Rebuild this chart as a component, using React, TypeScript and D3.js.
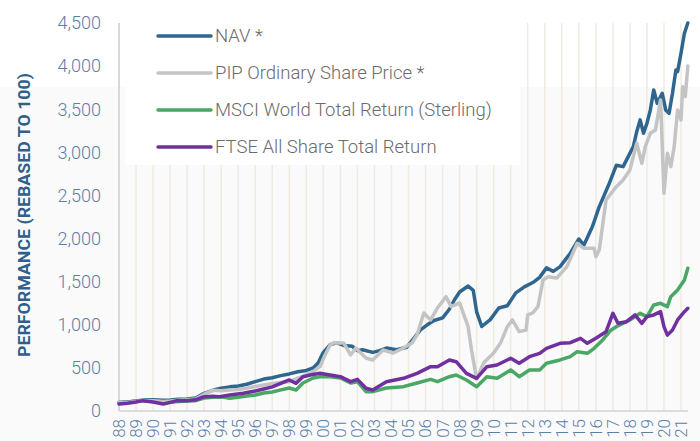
import React from 'react';
import * as d3 from 'd3';

// [year, value] pairs (rebased to 100)
const navSeries: [number, number][] = [
  [1988.0, 100], [1988.5, 105], [1989.0, 115], [1989.5, 128], [1990.0, 130], [1990.6, 125],
  [1991.0, 128], [1991.5, 135], [1992.0, 140], [1992.5, 150], [1993.0, 205], [1993.5, 240],
  [1994.0, 265], [1994.5, 280], [1995.0, 290], [1995.5, 310], [1996.0, 340], [1996.5, 370],
  [1997.0, 385], [1997.5, 410], [1998.0, 430], [1998.5, 455], [1999.0, 470], [1999.4, 500],
  [1999.7, 560], [2000.0, 680], [2000.4, 770], [2000.8, 790], [2001.2, 760], [2001.7, 750],
  [2002.0, 700], [2002.3, 710], [2002.9, 680], [2003.3, 700], [2003.7, 730], [2004.3, 710],
  [2004.9, 740], [2005.3, 840], [2005.7, 940], [2006.1, 1000], [2006.5, 1050], [2007.0, 1080],
  [2007.4, 1180], [2007.7, 1290], [2008.0, 1380], [2008.5, 1450], [2008.8, 1400], [2009.0, 1150],
  [2009.3, 980], [2009.8, 1060], [2010.3, 1195], [2010.8, 1220], [2011.3, 1370], [2011.8, 1440],
  [2012.3, 1490], [2012.7, 1550], [2013.1, 1660], [2013.5, 1620], [2013.9, 1675], [2014.5, 1830],
  [2015.0, 1995], [2015.3, 1925], [2015.8, 2140], [2016.2, 2370], [2016.8, 2645], [2017.2, 2850],
  [2017.6, 2834], [2018.2, 3066], [2018.4, 3240], [2018.6, 3376], [2018.8, 3221], [2019.0, 3337],
  [2019.2, 3492], [2019.4, 3724], [2019.6, 3569], [2019.9, 3685], [2020.1, 3492], [2020.3, 3453],
  [2020.5, 3685], [2020.7, 3956], [2020.8, 3936], [2021.0, 4149], [2021.2, 4381], [2021.4, 4500],
];

const pipSeries: [number, number][] = [
  [1988.0, 100], [1988.5, 100], [1989.0, 110], [1989.5, 120], [1990.0, 118], [1990.6, 110],
  [1991.0, 115], [1991.5, 125], [1992.0, 130], [1992.5, 140], [1993.0, 195], [1993.5, 240],
  [1994.0, 235], [1994.5, 244], [1995.0, 250], [1995.5, 265], [1996.0, 285], [1996.5, 302],
  [1997.0, 320], [1997.5, 330], [1998.0, 340], [1998.5, 380], [1999.0, 420], [1999.4, 456],
  [1999.8, 514], [2000.1, 650], [2000.4, 766], [2000.6, 792], [2001.2, 788], [2001.6, 650],
  [2001.9, 730], [2002.5, 615], [2002.9, 592], [2003.5, 708], [2004.1, 673], [2004.7, 731],
  [2005.2, 788], [2005.5, 882], [2005.9, 1137], [2006.3, 1056], [2006.7, 1195], [2007.2, 1326],
  [2007.5, 1210], [2008.0, 1253], [2008.5, 978], [2008.7, 708], [2009.0, 370], [2009.4, 556],
  [2010.0, 673], [2010.4, 788], [2010.8, 978], [2011.1, 1056], [2011.5, 920], [2011.9, 940],
  [2012.0, 1114], [2012.3, 1137], [2012.6, 1210], [2012.9, 1520], [2013.2, 1558], [2013.7, 1542],
  [2014.3, 1674], [2014.9, 1945], [2015.3, 1887], [2015.9, 1887], [2016.0, 1790], [2016.2, 1868],
  [2016.6, 2448], [2016.9, 2525], [2017.2, 2602], [2017.6, 2680], [2018.0, 2796], [2018.4, 3105],
  [2018.7, 2873], [2018.9, 3066], [2019.2, 3221], [2019.5, 3260], [2019.8, 3608], [2020.0, 2525],
  [2020.2, 2989], [2020.4, 2834], [2020.6, 3066], [2020.8, 3492], [2021.0, 3376], [2021.1, 3762],
  [2021.25, 3646], [2021.4, 4000],
];

const msciSeries: [number, number][] = [
  [1988.0, 100], [1988.5, 105], [1989.0, 112], [1989.5, 118], [1990.0, 110], [1990.6, 90],
  [1991.0, 100], [1991.5, 110], [1992.0, 115], [1992.5, 120], [1993.0, 150], [1993.5, 160],
  [1994.0, 165], [1994.5, 147], [1995.0, 160], [1995.5, 175], [1996.0, 185], [1996.5, 209],
  [1997.0, 220], [1997.5, 245], [1998.0, 267], [1998.4, 244], [1998.8, 325], [1999.4, 383],
  [1999.8, 398], [2000.4, 398], [2001.0, 383], [2001.6, 325], [2002.0, 340], [2002.5, 224],
  [2002.9, 224], [2003.7, 267], [2004.7, 282], [2005.5, 325], [2006.3, 367], [2006.7, 340],
  [2007.4, 398], [2007.8, 418], [2008.4, 360], [2009.0, 282], [2009.6, 398], [2010.2, 379],
  [2011.0, 476], [2011.5, 398], [2012.1, 476], [2012.7, 476], [2013.1, 553], [2013.9, 592],
  [2014.5, 630], [2014.9, 688], [2015.5, 669], [2015.9, 727], [2016.4, 824], [2016.9, 940],
  [2017.2, 978], [2018.0, 1056], [2018.6, 1133], [2019.0, 1094], [2019.4, 1230], [2019.8, 1249],
  [2020.2, 1210], [2020.4, 1326], [2020.8, 1404], [2021.2, 1520], [2021.4, 1655],
];

const ftseSeries: [number, number][] = [
  [1988.0, 80], [1988.5, 90], [1989.0, 105], [1989.4, 120], [1990.0, 105], [1990.6, 81],
  [1991.0, 100], [1991.4, 120], [1992.0, 120], [1992.5, 130], [1993.0, 166], [1993.5, 170],
  [1993.9, 166], [1994.5, 186], [1995.3, 205], [1996.0, 232], [1996.5, 255], [1997.0, 280],
  [1997.5, 320], [1998.0, 360], [1998.4, 321], [1998.8, 398], [1999.3, 420], [1999.8, 437],
  [2000.4, 418], [2001.0, 398], [2001.6, 340], [2002.0, 367], [2002.5, 263], [2002.9, 244],
  [2003.7, 340], [2004.7, 379], [2005.5, 437], [2006.3, 514], [2006.7, 514], [2007.4, 592],
  [2007.8, 572], [2008.4, 437], [2009.0, 379], [2009.6, 514], [2010.2, 534], [2011.0, 611],
  [2011.5, 553], [2012.1, 630], [2012.7, 669], [2013.1, 727], [2013.9, 785], [2014.5, 792],
  [2015.1, 843], [2015.5, 785], [2016.0, 843], [2016.6, 920], [2017.0, 1133], [2017.3, 1017],
  [2017.8, 1036], [2018.3, 1114], [2018.7, 1017], [2019.0, 1094], [2019.4, 1114], [2019.8, 1152],
  [2020.0, 978], [2020.2, 880], [2020.5, 940], [2020.8, 1056], [2021.2, 1152], [2021.4, 1191],
];

const legendLabels = ['NAV *', 'PIP Ordinary Share Price *', 'MSCI World Total Return (Sterling)', 'FTSE All Share Total Return'];
const lineColors = ['#2f6690', '#c4c4c4', '#4aa765', '#7030a0'];
const yTickValues = [0, 500, 1000, 1500, 2000, 2500, 3000, 3500, 4000, 4500];
const tickYears = d3.range(1988, 2022);

export default function App() {
  const width = 700, height = 441;
  const left = 119, right = 681, top = 23, bottom = 411;

  const x = d3.scaleLinear().domain([1988, 2021]).range([left, right]);
  const y = d3.scaleLinear().domain([0, 4500]).range([bottom, top]);
  const lineF = d3.line<[number, number]>().x(d => x(d[0])).y(d => y(d[1]));
  const fmt = d3.format(',');

  const series = [navSeries, pipSeries, msciSeries, ftseSeries];
  // draw order: green, blue, grey, purple
  const drawOrder = [2, 0, 1, 3];
  const tickColor = '#5b80a8';

  return (
    <svg width={width} height={height} style={{ position: 'absolute', left: 0, top: 0, fontFamily: 'Roboto, sans-serif' }}>
      <rect x={0} y={0} width={width} height={height} fill="#ffffff" />
      <rect x={0} y={87} width={width} height={height - 87} fill="#fafafa" />

      {/* vertical gridlines */}
      {tickYears.slice(1).map(yr => (
        <line key={yr} x1={x(yr)} x2={x(yr)} y1={top} y2={bottom} stroke="#efebdf" strokeWidth={1.5} />
      ))}

      {/* legend box */}
      <rect x={125} y={0} width={395} height={165} fill="#ffffff" />

      {/* axes */}
      <line x1={left} x2={left} y1={top} y2={bottom} stroke="#d8d8d8" strokeWidth={2} />
      <line x1={left} x2={688} y1={bottom} y2={bottom} stroke="#dcdcdc" strokeWidth={2} />

      {yTickValues.map(v => (
        <text key={v} x={101} y={y(v)} dy="0.35em" textAnchor="end" fontSize={18} fill={tickColor} fontWeight={300}>
          {fmt(v)}
        </text>
      ))}

      {tickYears.map(yr => (
        <text key={yr} transform={`translate(${x(yr)},419) rotate(-90)`} textAnchor="end" dy="0.35em"
          fontSize={17} fill={tickColor} fontWeight={300}>
          {String(yr).slice(2)}
        </text>
      ))}

      <text transform="translate(30,215) rotate(-90)" textAnchor="middle" fontSize={17} fontWeight={700}
        fill="#2f5f8a" textLength={284} lengthAdjust="spacingAndGlyphs">
        PERFORMANCE (REBASED TO 100)
      </text>

      {drawOrder.map(i => (
        <path key={i} d={lineF(series[i]) || ''} fill="none" stroke={lineColors[i]} strokeWidth={3.5}
          strokeLinejoin="round" strokeLinecap="round" />
      ))}

      {legendLabels.map((label, i) => {
        const ly = 36 + i * 37;
        return (
          <g key={label}>
            <line x1={158} x2={211} y1={ly} y2={ly} stroke={lineColors[i]} strokeWidth={3.5} strokeLinecap="round" />
            <text x={215} y={ly} dy="0.35em" fontSize={18.5} fill="#6b6b6b" fontWeight={300}>{label}</text>
          </g>
        );
      })}
    </svg>
  );
}
